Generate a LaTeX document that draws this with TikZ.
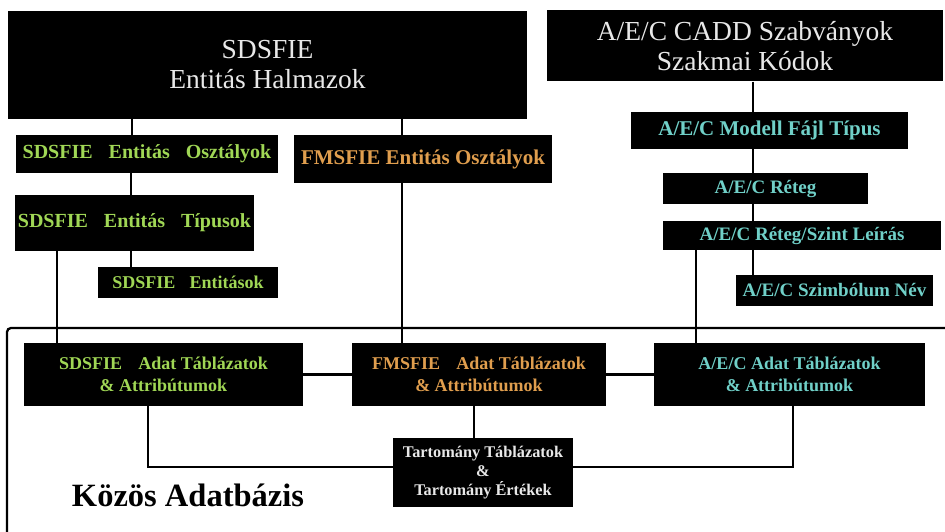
\documentclass[tikz,border=0pt]{standalone}
\usepackage{fontspec}
\setmainfont{Liberation Serif}
\definecolor{txtwhite}{RGB}{232,232,232}
\definecolor{sdsgreen}{RGB}{160,215,85}
\definecolor{fmsorange}{RGB}{224,158,78}
\definecolor{aeccyan}{RGB}{112,208,200}
\begin{document}
\begin{tikzpicture}[x=1pt,y=-1pt,
  blk/.style={fill=black,inner sep=0pt,align=center},
  conn/.style={draw=black,line width=2.3pt},
  bigtxt/.style={font=\fontsize{27.5}{30}\selectfont,text=txtwhite},
  grn/.style={font=\bfseries\fontsize{20}{22}\selectfont,text=sdsgreen},
  org/.style={font=\bfseries\fontsize{21}{23}\selectfont,text=fmsorange},
  cyn/.style={font=\bfseries\fontsize{19}{21}\selectfont,text=aeccyan},
  adat/.style={font=\bfseries\fontsize{18}{22}\selectfont},
]
\useasboundingbox[fill=white] (0,0) rectangle (945,532);

% container
\draw[conn,rounded corners=4pt] (7,545) -- (7,328) -- (955,328);

% top boxes
\node[blk,bigtxt,minimum width=519pt,minimum height=108pt] (top) at (267.5,65) {SDSFIE\\Entitás Halmazok};
\node[blk,bigtxt,minimum width=396pt,minimum height=71pt] (aec) at (745,46) {A/E/C CADD Szabványok\\Szakmai Kódok};

% left column
\node[blk,grn,minimum width=262pt,minimum height=38pt] (osz) at (147,154) {SDSFIE\hspace{0.8em}Entitás\hspace{0.8em}Osztályok};
\node[blk,grn,minimum width=239pt,minimum height=56pt] (tip) at (134.5,223) {SDSFIE\hspace{0.8em}Entitás\hspace{0.8em}Típusok};
\node[blk,grn,font=\bfseries\fontsize{18}{20}\selectfont,minimum width=180pt,minimum height=31pt] (ent) at (188,282.5) {SDSFIE\hspace{0.8em}Entitások};

% middle
\node[blk,org,minimum width=258pt,minimum height=48pt] (fmo) at (423,159) {FMSFIE Entitás Osztályok};

% right column
\node[blk,cyn,font=\bfseries\fontsize{21}{22}\selectfont,minimum width=277pt,minimum height=37pt] (mod) at (769.5,130.5) {A/E/C Modell Fájl Típus};
\node[blk,cyn,minimum width=205pt,minimum height=31pt] (ret) at (765.5,188.5) {A/E/C Réteg};
\node[blk,cyn,minimum width=278pt,minimum height=29pt] (rsz) at (802,235.5) {A/E/C Réteg/Szint Leírás};
\node[blk,cyn,minimum width=197pt,minimum height=31pt] (szi) at (834.5,290.5) {A/E/C Szimbólum Név};

% data tables
\node[blk,adat,text=sdsgreen,minimum width=279pt,minimum height=63pt] (sda) at (163.5,374.5) {SDSFIE\hspace{0.9em}Adat Táblázatok\\\& Attribútumok};
\node[blk,adat,text=fmsorange,minimum width=254pt,minimum height=63pt] (fda) at (479,374.5) {FMSFIE\hspace{0.9em}Adat Táblázatok\\\& Attribútumok};
\node[blk,adat,text=aeccyan,minimum width=271pt,minimum height=63pt] (ada) at (789.5,374.5) {A/E/C Adat Táblázatok\\\& Attribútumok};
\node[blk,font=\bfseries\fontsize{16.3}{19}\selectfont,text=txtwhite,minimum width=180pt,minimum height=69pt] (tar) at (483,472.5) {Tartomány Táblázatok\\\&\\Tartomány Értékek};

\node[font=\bfseries\fontsize{32.5}{34}\selectfont,text=black,inner sep=0pt] (koz) at (188,495) {Közös Adatbázis};

% connectors
\draw[conn] (top.south -| 132,0) -- (osz.north -| 132,0);
\draw[conn] (osz.south -| 131,0) -- (tip.north -| 131,0);
\draw[conn] (tip.south -| 131,0) -- (ent.north -| 131,0);
\draw[conn] (tip.south -| 57,0) -- (sda.north -| 57,0);
\draw[conn] (top.south -| 402,0) -- (fmo.north -| 402,0);
\draw[conn] (fmo.south -| 402,0) -- (fda.north -| 402,0);
\draw[conn] (aec.south -| 753,0) -- (mod.north -| 753,0);
\draw[conn] (mod.south -| 753,0) -- (ret.north -| 753,0);
\draw[conn] (ret.south -| 753,0) -- (rsz.north -| 753,0);
\draw[conn] (rsz.south -| 753,0) -- (szi.north -| 753,0);
\draw[conn] (rsz.south -| 696,0) -- (ada.north -| 696,0);
\draw[conn] (sda.east) -- (fda.west);
\draw[conn] (fda.east) -- (ada.west);
\draw[conn] (sda.south -| 148,0) |- (tar.west |- 0,467);
\draw[conn] (fda.south -| 474,0) -- (tar.north -| 474,0);
\draw[conn] (ada.south -| 793,0) |- (tar.east |- 0,467);
\end{tikzpicture}
\end{document}
